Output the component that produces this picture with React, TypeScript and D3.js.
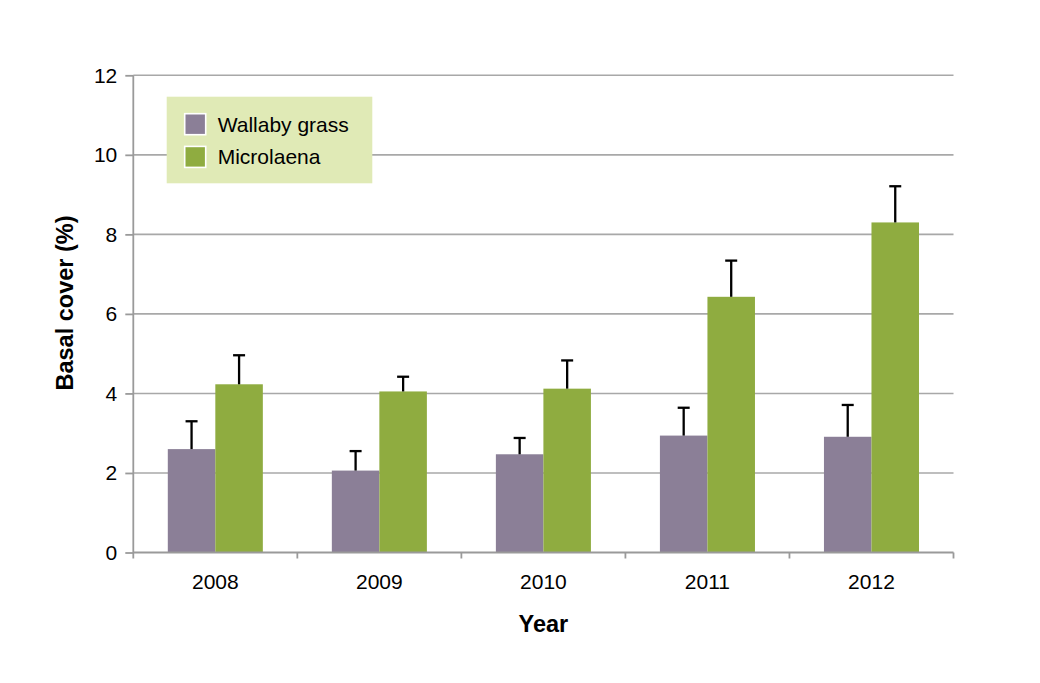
import { useEffect, useRef } from "react";
import * as d3 from "d3";

const years = ["2008", "2009", "2010", "2011", "2012"];
const seriesNames = ["Wallaby grass", "Microlaena"];
const wallaby = [2.6, 2.06, 2.47, 2.94, 2.91];
const wallabyErr = [3.3, 2.55, 2.88, 3.64, 3.71];
const microlaena = [4.23, 4.05, 4.12, 6.43, 8.3];
const microlaenaErr = [4.96, 4.42, 4.83, 7.34, 9.21];
const yTicks = [0, 2, 4, 6, 8, 10, 12];
const colors = ["#8b7f97", "#8fac40"];

const width = 1040, height = 683;
const margin = { top: 75.3, right: 86.5, bottom: 130.5, left: 133.3 };
const font = "'Liberation Sans', Arial, Helvetica, sans-serif";

const App = () => {
  const ref = useRef(null);

  useEffect(() => {
    const svg = d3
      .select(ref.current)
      .append("svg")
      .attr("width", width)
      .attr("height", height)
      .attr("viewBox", [0, 0, width, height])
      .style("font-family", font);

    svg.append("rect").attr("width", width).attr("height", height).attr("fill", "#fff");

    const x = d3.scaleBand()
      .domain(years)
      .range([margin.left, width - margin.right])
      .padding(0);

    const xInner = d3.scaleBand()
      .domain(seriesNames)
      .range([0, x.bandwidth()])
      .paddingInner(0)
      .paddingOuter(0.726);

    const y = d3.scaleLinear()
      .domain([0, 12])
      .range([height - margin.bottom, margin.top]);

    // gridlines
    svg.append("g")
      .selectAll("line")
      .data(yTicks.filter(d => d > 0))
      .join("line")
        .attr("x1", margin.left)
        .attr("x2", width - margin.right)
        .attr("y1", d => y(d))
        .attr("y2", d => y(d))
        .attr("stroke", "#a8a8a8")
        .attr("stroke-width", 1.6);

    const rows = years.map((yr, i) => [
      { year: yr, key: seriesNames[0], v: wallaby[i], e: wallabyErr[i] },
      { year: yr, key: seriesNames[1], v: microlaena[i], e: microlaenaErr[i] },
    ]).flat();

    const color = d3.scaleOrdinal<string>().domain(seriesNames).range(colors);

    // bars
    svg.append("g")
      .selectAll("rect")
      .data(rows)
      .join("rect")
        .attr("x", d => (x(d.year) as number) + (xInner(d.key) as number))
        .attr("y", d => y(d.v))
        .attr("width", xInner.bandwidth())
        .attr("height", d => y(0) - y(d.v))
        .attr("fill", d => color(d.key));

    // error bars
    const eb = svg.append("g")
      .attr("stroke", "#000")
      .attr("stroke-width", 2.3)
      .selectAll("g")
      .data(rows)
      .join("g")
        .attr("transform", d => `translate(${(x(d.year) as number) + (xInner(d.key) as number) + xInner.bandwidth() / 2},0)`);
    eb.append("line")
      .attr("y1", d => y(d.v))
      .attr("y2", d => y(d.e));
    eb.append("line")
      .attr("x1", -6)
      .attr("x2", 6)
      .attr("y1", d => y(d.e))
      .attr("y2", d => y(d.e));

    // y axis
    svg.append("g")
      .attr("transform", `translate(${margin.left},0)`)
      .call(d3.axisLeft(y).tickValues(yTicks).tickSize(8).tickPadding(8).tickFormat(d3.format("d")))
      .call(g => g.selectAll(".domain, line").attr("stroke", "#9a9a9a").attr("stroke-width", 1.8))
      .call(g => g.selectAll(".domain").attr("d", `M0,${y(0) + 6}V${y(12)}`))
      .call(g => g.selectAll("text").attr("font-size", 21).attr("font-family", font).attr("fill", "#000"));

    // x axis
    svg.append("g")
      .attr("transform", `translate(0,${y(0)})`)
      .call(d3.axisBottom(x).tickSize(0).tickPadding(22))
      .call(g => g.select(".domain").attr("d", `M${margin.left},0H${width - margin.right}`)
        .attr("stroke", "#9a9a9a").attr("stroke-width", 1.8))
      .call(g => g.selectAll("text").attr("font-size", 21).attr("font-family", font).attr("fill", "#000"));

    // x axis category separators
    svg.append("g")
      .selectAll("line")
      .data(years)
      .join("line")
        .attr("x1", d => (x(d) as number) + x.bandwidth())
        .attr("x2", d => (x(d) as number) + x.bandwidth())
        .attr("y1", y(0))
        .attr("y2", y(0) + 6)
        .attr("stroke", "#9a9a9a")
        .attr("stroke-width", 1.8);

    // axis titles
    svg.append("text")
      .attr("x", (margin.left + width - margin.right) / 2)
      .attr("y", 632)
      .attr("text-anchor", "middle")
      .attr("font-size", 23.5)
      .attr("font-weight", "bold")
      .text("Year");

    svg.append("text")
      .attr("transform", `translate(73,303) rotate(-90)`)
      .attr("text-anchor", "middle")
      .attr("font-size", 23.5)
      .attr("font-weight", "bold")
      .text("Basal cover (%)");

    // legend
    const legend = svg.append("g").attr("transform", "translate(166.7,96.7)");
    legend.append("rect")
      .attr("width", 205.6)
      .attr("height", 86.6)
      .attr("fill", "#e0eab6");
    const items = legend.selectAll("g.item")
      .data(seriesNames)
      .join("g")
        .attr("class", "item")
        .attr("transform", (d, i) => `translate(18,${17 + i * 32.7})`);
    items.append("rect")
      .attr("width", 21)
      .attr("height", 21)
      .attr("fill", d => color(d))
      .attr("stroke", "#fff")
      .attr("stroke-width", 1.6);
    items.append("text")
      .attr("x", 33)
      .attr("y", 18)
      .attr("font-size", 21)
      .text(d => d);

    return () => {
      d3.select(ref.current).select("svg").remove();
    };
  }, []);

  return <div ref={ref} style={{ position: "fixed", left: 0, top: 0 }}></div>;
};

export default App;
